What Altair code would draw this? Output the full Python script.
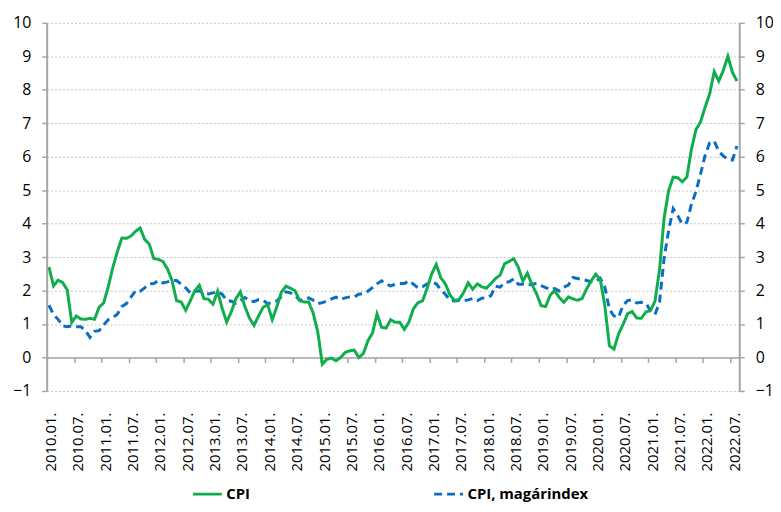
import altair as alt
import pandas as pd

# Monthly year-on-year rates, 2010.01 - 2022.08
cpi = [
    2.70, 2.14, 2.31, 2.24, 2.02, 1.05, 1.24, 1.15, 1.14, 1.17, 1.14, 1.50,
    1.63, 2.11, 2.68, 3.16, 3.57, 3.56, 3.63, 3.77, 3.87, 3.53, 3.39, 2.96,
    2.93, 2.87, 2.65, 2.30, 1.70, 1.66, 1.41, 1.69, 1.99, 2.16, 1.76, 1.74,
    1.59, 1.98, 1.47, 1.06, 1.36, 1.75, 1.96, 1.52, 1.18, 0.96, 1.24, 1.50,
    1.58, 1.13, 1.51, 1.95, 2.13, 2.07, 1.99, 1.70, 1.66, 1.66, 1.32, 0.76,
    -0.20, -0.05, -0.02, -0.10, 0.00, 0.15, 0.20, 0.22, 0.00, 0.12, 0.50, 0.73,
    1.30, 0.90, 0.88, 1.13, 1.05, 1.05, 0.84, 1.06, 1.46, 1.64, 1.69, 2.07,
    2.50, 2.78, 2.38, 2.20, 1.87, 1.70, 1.73, 1.94, 2.23, 2.04, 2.20, 2.11,
    2.07, 2.21, 2.36, 2.46, 2.80, 2.87, 2.95, 2.70, 2.28, 2.52, 2.18, 1.91,
    1.55, 1.52, 1.86, 2.00, 1.79, 1.65, 1.81, 1.75, 1.71, 1.76, 2.05, 2.29,
    2.49, 2.33, 1.54, 0.35, 0.25, 0.70, 0.99, 1.31, 1.37, 1.18, 1.17, 1.36,
    1.40, 1.68, 2.62, 4.16, 4.99, 5.39, 5.37, 5.25, 5.39, 6.22, 6.81, 7.04,
    7.48, 7.87, 8.54, 8.26, 8.58, 9.00, 8.52, 8.26,
]
core = [
    1.56, 1.28, 1.14, 0.94, 0.92, 0.94, 0.92, 0.92, 0.80, 0.60, 0.78, 0.80,
    0.97, 1.13, 1.19, 1.29, 1.52, 1.61, 1.80, 1.99, 1.98, 2.08, 2.20, 2.21,
    2.30, 2.23, 2.26, 2.30, 2.30, 2.19, 2.08, 1.93, 1.97, 1.99, 1.92, 1.90,
    1.93, 1.97, 1.89, 1.71, 1.68, 1.62, 1.70, 1.79, 1.70, 1.67, 1.73, 1.71,
    1.61, 1.64, 1.69, 1.82, 1.96, 1.93, 1.86, 1.71, 1.73, 1.78, 1.71, 1.61,
    1.64, 1.69, 1.75, 1.80, 1.73, 1.78, 1.81, 1.81, 1.89, 1.91, 1.98, 2.09,
    2.20, 2.29, 2.19, 2.14, 2.19, 2.21, 2.21, 2.29, 2.19, 2.08, 2.11, 2.20,
    2.25, 2.20, 2.02, 1.89, 1.71, 1.69, 1.70, 1.70, 1.72, 1.76, 1.70, 1.77,
    1.78, 1.85, 2.13, 2.10, 2.24, 2.26, 2.35, 2.19, 2.19, 2.15, 2.19, 2.21,
    2.15, 2.09, 2.03, 2.06, 1.99, 2.10, 2.16, 2.39, 2.36, 2.33, 2.30, 2.26,
    2.27, 2.37, 2.10, 1.44, 1.24, 1.20, 1.56, 1.70, 1.72, 1.63, 1.65, 1.62,
    1.40, 1.28, 1.65, 2.96, 3.80, 4.45, 4.24, 3.98, 4.04, 4.58, 4.96, 5.48,
    6.04, 6.41, 6.47, 6.16, 6.02, 5.92, 5.90, 6.32,
]
series_names = ["CPI", "CPI, magárindex"]
tick_labels = [f"{y}.{m}." for y in range(2010, 2023) for m in ("01", "07")]
y_ticks = list(range(-1, 11))

n = len(cpi)
rows = []
for i in range(n):
    rows.append({"m": i + 0.5, "v": cpi[i], "s": series_names[0]})
    rows.append({"m": i + 0.5, "v": core[i], "s": series_names[1]})
df = pd.DataFrame(rows)

label_arr = "[" + ",".join(f"'{t}'" for t in tick_labels) + "]"
font = "Open Sans"
grey = "#a6a6a6"

x_axis = alt.Axis(
    values=[6 * k for k in range(len(tick_labels))],
    labelExpr=f"{label_arr}[round(datum.value/6)]",
    labelAngle=270, labelFontSize=15, labelFont=font, labelColor="#000",
    labelOffset=4, labelPadding=50, labelOverlap=False, labelFlush=False,
    tickSize=5, tickColor=grey, tickWidth=1.5,
    domainColor=grey, domainWidth=1.5, grid=False, title=None,
    offset=-371 / 11,
)
x_enc = alt.X("m:Q", scale=alt.Scale(domain=[0, n], nice=False, zero=False), axis=x_axis)

legend = alt.Legend(
    orient="none", legendX=146, legendY=459, direction="horizontal",
    columns=2, columnPadding=179, title=None, labelFont=font,
    labelFontSize=15, labelFontWeight="bold", labelColor="#000",
    symbolType="stroke", symbolSize=841, symbolStrokeWidth=3,
    labelOffset=3, padding=0,
)
color = alt.Color(
    "s:N",
    scale=alt.Scale(domain=series_names, range=["#10ad4c", "#0a6fc4"]),
    legend=legend,
)
dash = alt.StrokeDash(
    "s:N",
    scale=alt.Scale(domain=series_names, range=[[1, 0], [8, 5]]),
    legend=legend,
)

def y_axis(orient, grid):
    return alt.Axis(
        orient=orient, values=y_ticks, grid=grid, gridColor="#c4c4c4",
        gridDash=[2, 2], gridWidth=1, domainColor=grey, domainWidth=2,
        tickColor=grey, tickSize=5, tickWidth=1.5, labelFontSize=16,
        labelFont=font, labelColor="#000", labelPadding=11, title=None,
    )

yscale = alt.Scale(domain=[-1, 10], nice=False, zero=False)

left = alt.Chart(df).transform_filter(alt.datum.s == series_names[0]).mark_line(
    strokeWidth=3, strokeCap="butt"
).encode(
    x=x_enc,
    y=alt.Y("v:Q", scale=yscale, axis=y_axis("left", True)),
    color=color, strokeDash=dash,
)
right = alt.Chart(df).transform_filter(alt.datum.s == series_names[1]).mark_line(
    strokeWidth=3, strokeCap="butt"
).encode(
    x=x_enc,
    y=alt.Y("v:Q", scale=yscale, axis=y_axis("right", False)),
    color=color, strokeDash=dash,
)

chart = alt.layer(right, left).resolve_scale(y="independent").properties(
    width=698, height=371,
    autosize=alt.AutoSizeParams(type="none"),
    padding={"left": 39, "top": 13, "right": 34, "bottom": 112},
).configure_view(stroke=None)

chart.save("out.html", embed_options={"renderer": "svg", "actions": False})
